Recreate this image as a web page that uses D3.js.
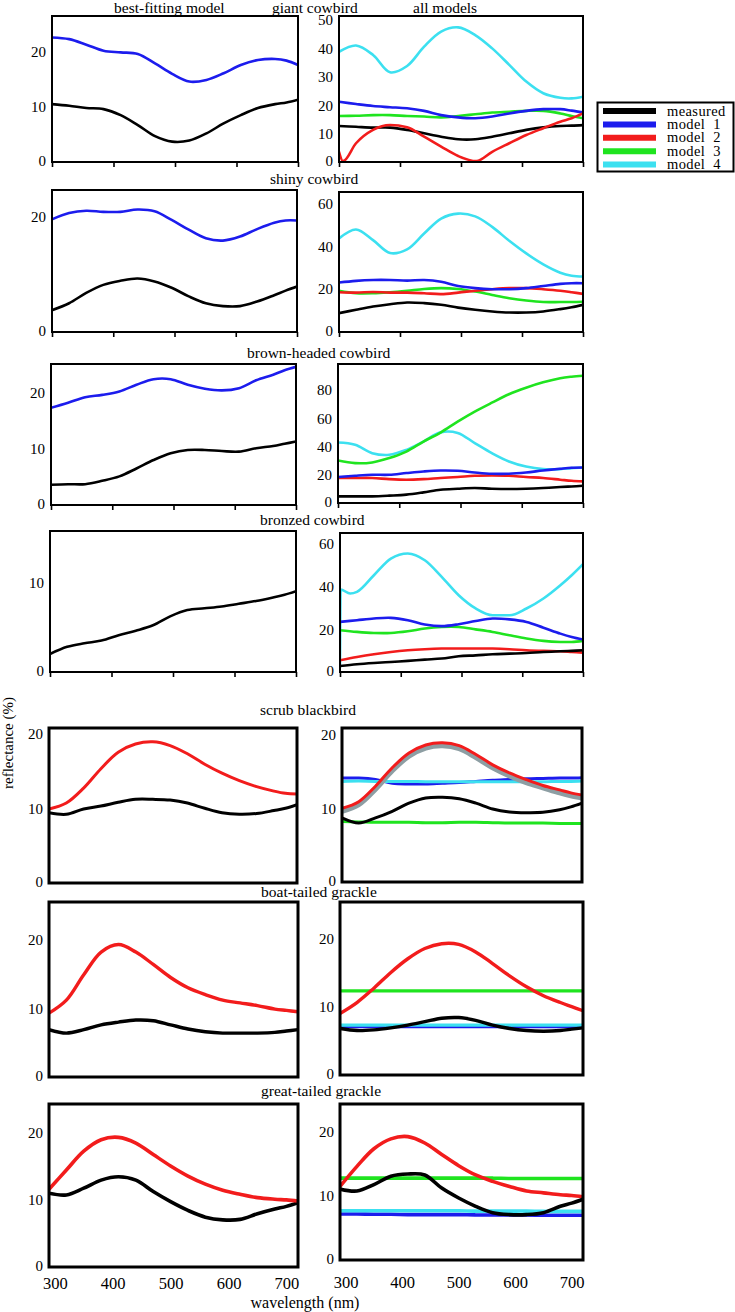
<!DOCTYPE html>
<html><head><meta charset="utf-8">
<script src="https://cdn.jsdelivr.net/npm/d3@7"></script>
<style>
body{margin:0;background:#fff}
svg{display:block}
text{font-family:"Liberation Serif","Times New Roman",serif;fill:#000}
</style>
</head><body>
<svg id="c" width="735" height="1312" font-family="Liberation Serif"></svg>
<script>
// ---------------- DATA ----------------
const wl = [290,320,350,380,410,440,470,500,530,560,590,620,650,680,700,720];
const xLabelTicks = [300,400,500,600,700];
const seriesNames = ["measured","model 1","model 2","model 3","model 4"];

// giant cowbird
const giantBestMeasured = [10.5,10.2,9.8,9.6,8.5,6.7,4.7,3.7,3.9,5.2,7.0,8.5,9.8,10.5,10.8,11.3];
const giantBestModel1   = [22.6,22.3,21.3,20.2,19.9,19.6,17.9,16.0,14.6,14.9,16.1,17.6,18.5,18.7,18.4,17.6];
const giantAllMeasured  = [12.7,12.4,12.1,12.1,11.3,10.1,8.9,8.0,8.0,8.9,10.1,11.3,12.2,12.7,12.8,13.0];
const giantAllModel1    = [21.2,20.4,19.7,19.3,18.9,18.0,16.5,15.7,15.4,16.0,17.1,18.0,18.6,18.6,18.1,17.5];
const giantAllModel2Wl  = [290,297,320,350,380,410,440,470,500,532,560,590,620,650,680,700,720];
const giantAllModel2    = [3.6,0.3,6.6,11.3,13.0,12.2,8.9,5.4,2.1,0.3,3.6,6.6,9.5,11.9,14.2,15.4,17.1];
const giantAllModel3    = [16.2,16.3,16.5,16.5,16.2,16.0,15.7,16.2,16.8,17.4,17.7,18.0,18.0,17.1,16.2,15.4];
const giantAllModel4    = [38.8,41.0,37.7,31.6,33.8,40.6,45.9,47.4,44.7,40.0,34.2,28.3,24.2,22.6,22.4,23.0];

// shiny cowbird
const shinyBestMeasured = [3.8,5.0,6.8,8.2,8.9,9.3,8.8,7.7,6.2,5.0,4.5,4.5,5.3,6.4,7.2,7.9];
const shinyBestModel1   = [19.6,20.7,21.1,20.9,20.9,21.3,21.0,19.5,17.8,16.3,15.9,16.6,17.9,19.0,19.4,19.4];
const shinyAllMeasured  = [8.8,10.4,11.9,13.0,13.8,13.5,12.7,11.4,10.4,9.6,9.1,9.1,9.6,10.7,11.6,12.7];
const shinyAllModel1    = [23.1,23.9,24.3,24.3,24.0,24.3,23.5,21.5,20.5,20.0,20.0,20.5,21.5,22.5,22.8,22.8];
const shinyAllModel2    = [18.6,18.4,18.7,18.4,18.4,18.1,17.7,18.4,19.3,20.0,20.5,20.5,20.0,19.3,18.6,17.8];
const shinyAllModel3    = [19.2,18.1,18.1,18.6,19.3,20.1,20.5,20.1,18.9,17.3,15.8,14.7,14.0,14.0,14.0,14.1];
const shinyAllModel4    = [43.7,47.9,42.9,36.9,38.6,46.0,53.0,55.3,54.0,49.1,42.6,36.7,31.6,27.7,26.3,25.9];

// brown-headed cowbird
const brownBestMeasured = [3.6,3.7,3.7,4.3,5.1,6.5,8.0,9.2,9.8,9.8,9.6,9.5,10.1,10.5,10.9,11.3];
const brownBestModel1   = [17.3,18.2,19.2,19.6,20.2,21.4,22.4,22.4,21.4,20.7,20.4,20.8,22.2,23.2,24.0,24.6];
const brownAllMeasured  = [4.7,4.7,4.7,5.2,5.9,7.5,9.4,10.1,10.6,10.1,9.9,10.1,10.6,11.3,11.7,12.2];
const brownAllModel1    = [18.4,19.3,20.0,20.0,21.2,22.3,23.0,22.8,21.6,20.7,20.7,21.6,23.0,24.2,24.9,25.1];
const brownAllModel2    = [17.7,17.7,17.7,16.9,16.5,16.9,17.7,18.4,19.3,19.5,19.3,18.4,17.7,16.5,15.7,15.3];
const brownAllModel3    = [30.1,28.2,28.7,31.8,36.4,43.5,49.9,57.6,64.7,71.0,77.0,81.6,85.4,88.3,89.4,90.1];
const brownAllModel4    = [42.8,41.2,35.3,34.1,37.6,43.5,50.0,49.6,42.4,35.3,29.4,25.8,24.0,24.0,24.7,25.1];

// bronzed cowbird
const bronzedBestMeasured = [2.0,2.8,3.2,3.5,4.1,4.6,5.2,6.2,6.9,7.1,7.3,7.6,7.9,8.3,8.6,9.0];
const bronzedAllMeasured  = [2.8,3.6,4.2,4.7,5.2,5.8,6.3,7.4,7.8,8.3,8.6,8.9,9.4,9.7,9.9,10.2];
const bronzedAllModel1    = [23.5,24.3,25.1,25.4,24.3,22.3,21.5,22.4,23.9,25.1,24.7,23.5,20.8,18.0,16.4,15.2];
const bronzedAllModel2    = [5.5,7.0,8.3,9.4,10.2,10.7,11.0,11.0,11.0,11.0,10.7,10.2,9.9,9.7,9.4,9.1];
const bronzedAllModel3    = [19.6,18.8,18.3,18.3,19.1,20.4,21.1,21.1,20.0,18.8,17.2,15.7,14.6,14.1,14.1,14.6];
const bronzedAllModel4Wl  = [290,291,308,320,350,380,410,440,470,500,530,560,590,620,650,680,700,720];
const bronzedAllModel4    = [2.3,38.7,36.8,37.6,45.4,53.2,55.6,52.4,44.6,36.0,29.8,26.6,26.6,29.8,34.5,40.7,45.4,50.6];

// scrub blackbird
const scrubBestMeasured = [9.4,9.2,9.9,10.3,10.8,11.2,11.2,11.1,10.7,10.0,9.4,9.2,9.3,9.7,10.0,10.5];
const scrubBestModel2   = [9.9,10.7,12.7,15.3,17.5,18.6,18.9,18.4,17.3,15.9,14.7,13.7,12.9,12.3,12.0,11.9];
const scrubAllMeasured  = [8.7,8.0,8.7,9.6,10.7,11.4,11.5,11.3,10.7,9.9,9.5,9.4,9.45,9.8,10.2,10.7];
const scrubAllModel1    = [14.1,14.1,13.9,13.4,13.3,13.3,13.4,13.5,13.65,13.8,13.9,14.0,14.05,14.1,14.1,14.15];
const scrubAllModel2    = [10.0,10.9,13.0,15.5,17.5,18.6,18.9,18.5,17.3,15.9,14.8,13.9,13.1,12.5,12.1,11.8];
const scrubAllGrey      = [9.6,10.5,12.6,15.1,17.1,18.2,18.5,18.1,16.9,15.5,14.4,13.5,12.8,12.1,11.7,11.4];
const scrubAllModel3    = [8.2,8.15,8.1,8.1,8.1,8.05,8.05,8.1,8.1,8.05,8.0,8.0,8.0,7.95,7.95,7.95];
const scrubAllModel4    = [13.65,13.7,13.65,13.65,13.65,13.6,13.6,13.6,13.6,13.6,13.6,13.6,13.6,13.65,13.65,13.7];

// boat-tailed grackle
const boatBestMeasured = [6.9,6.4,6.9,7.6,8.0,8.3,8.2,7.6,7.0,6.6,6.4,6.4,6.4,6.5,6.7,6.9];
const boatBestModel2   = [9.3,11.2,14.9,18.2,19.3,18.2,16.4,14.5,13.0,12.0,11.2,10.8,10.4,9.9,9.7,9.5];
const boatAllMeasured  = [6.8,6.5,6.6,6.9,7.3,7.8,8.3,8.4,8.0,7.3,6.8,6.5,6.4,6.5,6.7,6.9];
const boatAllModel1    = [7.1,7.1,7.1,7.1,7.1,7.1,7.1,7.1,7.1,7.1,7.1,7.1,7.1,7.1,7.1,7.1];
const boatAllModel2    = [9.0,10.6,12.7,15.0,17.0,18.5,19.2,19.1,18.0,16.3,14.5,12.9,11.6,10.6,10.0,9.4];
const boatAllModel3    = [12.3,12.3,12.3,12.3,12.3,12.3,12.3,12.3,12.3,12.3,12.3,12.3,12.3,12.3,12.3,12.3];
const boatAllModel4    = [7.3,7.3,7.3,7.3,7.3,7.3,7.3,7.3,7.3,7.3,7.3,7.3,7.3,7.3,7.3,7.3];

// great-tailed grackle
const greatBestMeasured = [10.95,10.7,11.7,12.9,13.4,12.9,11.2,9.7,8.4,7.4,7.0,7.07,7.9,8.6,9.0,9.55];
const greatBestModel2   = [11.55,14.4,17.2,18.9,19.25,18.4,16.7,15.0,13.5,12.3,11.4,10.8,10.3,10.06,9.96,9.8];
const greatAllMeasured  = [11.1,10.8,11.8,13.1,13.45,13.3,11.25,9.7,8.4,7.4,7.1,7.1,7.4,8.4,8.9,9.5];
const greatAllModel1    = [7.2,7.2,7.15,7.15,7.1,7.1,7.1,7.1,7.05,7.05,7.05,7.05,7.0,7.0,7.0,7.0];
const greatAllModel2    = [11.5,14.65,17.4,18.95,19.3,18.3,16.5,14.75,13.3,12.3,11.5,10.8,10.5,10.2,10.1,9.9];
const greatAllModel3    = [12.8,12.8,12.8,12.8,12.8,12.8,12.8,12.8,12.8,12.8,12.75,12.75,12.75,12.75,12.75,12.75];
const greatAllModel4    = [7.7,7.7,7.7,7.7,7.7,7.7,7.7,7.7,7.65,7.65,7.65,7.65,7.6,7.6,7.6,7.6];

// ---------------- STYLE / LAYOUT ----------------
const colors = {"measured":"#000000","model 1":"#1c1ced","model 2":"#f21c1c","model 3":"#1fe41f","model 4":"#3ce0f0","grey":"#8d9ea3"};

const rows = [
 {title:"giant cowbird", tx:272, ty:13, frame:2, lw:2.6, xticks:true,
  L:{x:[52,298], y:[16,162], max:26.5, ticks:[0,10,20]},
  R:{x:[339,583], y:[16,162], max:51.4, ticks:[0,10,20,30,40,50]},
  best:[["measured",giantBestMeasured],["model 1",giantBestModel1]],
  all:[["model 4",giantAllModel4],["model 3",giantAllModel3],["model 1",giantAllModel1],["measured",giantAllMeasured],["model 2",giantAllModel2,giantAllModel2Wl]]},
 {title:"shiny cowbird", tx:270, ty:184, frame:2, lw:2.6, xticks:true,
  L:{x:[52,297], y:[190,332], max:24.7, ticks:[0,20]},
  R:{x:[339,583], y:[192,332], max:65.4, ticks:[0,20,40,60]},
  best:[["measured",shinyBestMeasured],["model 1",shinyBestModel1]],
  all:[["model 4",shinyAllModel4],["model 3",shinyAllModel3],["model 2",shinyAllModel2],["model 1",shinyAllModel1],["measured",shinyAllMeasured]]},
 {title:"brown-headed cowbird", tx:247, ty:358, frame:2, lw:2.6, xticks:true,
  L:{x:[51,296], y:[364,505], max:25.1, ticks:[0,10,20]},
  R:{x:[338,583], y:[364,503], max:98.4, ticks:[0,20,40,60,80]},
  best:[["measured",brownBestMeasured],["model 1",brownBestModel1]],
  all:[["model 4",brownAllModel4],["model 3",brownAllModel3],["model 2",brownAllModel2],["model 1",brownAllModel1],["measured",brownAllMeasured]]},
 {title:"bronzed cowbird", tx:260, ty:525, frame:2, lw:2.6, xticks:true,
  L:{x:[50,296], y:[531,672], max:15.7, ticks:[0,10]},
  R:{x:[340,583], y:[533,672], max:65.2, ticks:[0,20,40,60]},
  best:[["measured",bronzedBestMeasured]],
  all:[["model 4",bronzedAllModel4,bronzedAllModel4Wl],["model 3",bronzedAllModel3],["model 1",bronzedAllModel1],["model 2",bronzedAllModel2],["measured",bronzedAllMeasured]]},
 {title:"scrub blackbird", tx:260, ty:715, frame:3, lw:3, xticks:false,
  L:{x:[49,297], y:[728,883], max:20.75, ticks:[0,10,20]},
  R:{x:[342,582], y:[728,882], max:20.9, ticks:[0,10,20]},
  best:[["measured",scrubBestMeasured],["model 2",scrubBestModel2]],
  all:[["model 3",scrubAllModel3],["model 1",scrubAllModel1],["model 4",scrubAllModel4],["grey",scrubAllGrey],["model 2",scrubAllModel2],["measured",scrubAllMeasured]]},
 {title:"boat-tailed grackle", tx:261, ty:897, frame:3, lw:3.4, xticks:false,
  L:{x:[49,298], y:[902,1077], max:25.5, ticks:[0,10,20]},
  R:{x:[340,583], y:[902,1075], max:25.3, ticks:[0,10,20]},
  best:[["measured",boatBestMeasured],["model 2",boatBestModel2]],
  all:[["model 3",boatAllModel3],["model 1",boatAllModel1],["model 4",boatAllModel4],["model 2",boatAllModel2],["measured",boatAllMeasured]]},
 {title:"great-tailed grackle", tx:261, ty:1096, frame:3, lw:3.6, xticks:false, xlabels:true,
  L:{x:[49,298], y:[1104,1267], max:24.2, ticks:[0,10,20]},
  R:{x:[340,583], y:[1104,1260], max:24.4, ticks:[0,10,20]},
  best:[["measured",greatBestMeasured],["model 2",greatBestModel2]],
  all:[["model 3",greatAllModel3],["model 1",greatAllModel1],["model 4",greatAllModel4],["model 2",greatAllModel2],["measured",greatAllMeasured]]}
];

// ---------------- DRAW ----------------
const svg = d3.select("#c");
const defs = svg.append("defs");
let clipId = 0;

function panel(p, series, row){
  const x = d3.scaleLinear().domain([290,720]).range(p.x);
  const y = d3.scaleLinear().domain([0,p.max]).range([p.y[1],p.y[0]]);
  const g = svg.append("g");
  const id = "clip"+(clipId++);
  defs.append("clipPath").attr("id",id).append("rect")
    .attr("x",p.x[0]).attr("y",p.y[0]).attr("width",p.x[1]-p.x[0]).attr("height",p.y[1]-p.y[0]);
  const lg = g.append("g").attr("clip-path","url(#"+id+")");
  series.forEach(([name,vals,wls])=>{
    const w = wls || wl;
    const line = d3.line().x(d=>x(d[0])).y(d=>y(d[1]))
      .curve(wls ? d3.curveMonotoneX : d3.curveCatmullRom.alpha(0.5));
    lg.append("path").datum(vals.map((v,i)=>[w[i],v]))
      .attr("d",line).attr("fill","none")
      .attr("stroke",colors[name])
      .attr("stroke-width", name==="grey" ? row.lw+2.2 : row.lw)
      .attr("stroke-linejoin","round").attr("stroke-linecap","round");
  });
  // y axis labels
  const ya = g.append("g").attr("transform","translate("+p.x[0]+",0)")
    .call(d3.axisLeft(y).tickValues(p.ticks).tickSize(0).tickPadding(6).tickFormat(d3.format("d")));
  ya.select(".domain").remove();
  ya.attr("font-family","Liberation Serif");
  ya.selectAll("text").attr("font-size",15).attr("dy", d => d===0 ? "0.2em" : "0.32em");
  // x ticks
  if(row.xticks){
    const q = d3.range(5).map(i=>290+i*(720-290)/4);
    const xa = g.append("g").attr("transform","translate(0,"+p.y[1]+")")
      .call(d3.axisBottom(x).tickValues(q).tickSize(5).tickFormat(""));
    xa.select(".domain").remove();
    xa.selectAll("line").attr("stroke","#000").attr("stroke-width",1.6);
  }
  if(row.xlabels){
    const xa = g.append("g").attr("transform","translate(0,"+p.y[1]+")")
      .call(d3.axisBottom(x).tickValues(xLabelTicks).tickSize(0).tickPadding(p.x[0]===49?10:16).tickFormat(d3.format("d")));
    xa.select(".domain").remove();
    xa.attr("font-family","Liberation Serif");
    xa.selectAll("text").attr("font-size",16.5);
  }
  // frame
  g.append("rect").attr("x",p.x[0]).attr("y",p.y[0]).attr("width",p.x[1]-p.x[0]).attr("height",p.y[1]-p.y[0])
    .attr("fill","none").attr("stroke","#000").attr("stroke-width",row.frame);
}

rows.forEach(r=>{
  panel(r.L, r.best, r);
  panel(r.R, r.all, r);
  svg.append("text").attr("x",r.tx).attr("y",r.ty).attr("font-size",15.5).text(r.title);
});

// column headers
svg.append("text").attr("x",114).attr("y",13).attr("font-size",15.5).text("best-fitting model");
svg.append("text").attr("x",413).attr("y",13).attr("font-size",15.5).text("all models");

// axis titles
svg.append("text").attr("transform","translate(13,743) rotate(-90)").attr("text-anchor","middle")
  .attr("font-size",15).text("reflectance (%)");
svg.append("text").attr("x",305).attr("y",1308).attr("text-anchor","middle")
  .attr("font-size",16).text("wavelength (nm)");

// legend
const leg = svg.append("g");
leg.append("rect").attr("x",597.5).attr("y",102.5).attr("width",136).attr("height",69)
  .attr("fill","#fff").attr("stroke","#000").attr("stroke-width",2);
const ly = d3.scalePoint().domain(seriesNames).range([111,164.5]);
seriesNames.forEach(n=>{
  leg.append("line").attr("x1",603).attr("x2",656).attr("y1",ly(n)).attr("y2",ly(n))
    .attr("stroke",colors[n]).attr("stroke-width",6);
  leg.append("text").attr("x",667).attr("y",ly(n)+4.5).attr("font-size",14.5)
    .attr("letter-spacing",0.4).text(n.replace(" ","\u00a0 "));
});
</script>
</body></html>
